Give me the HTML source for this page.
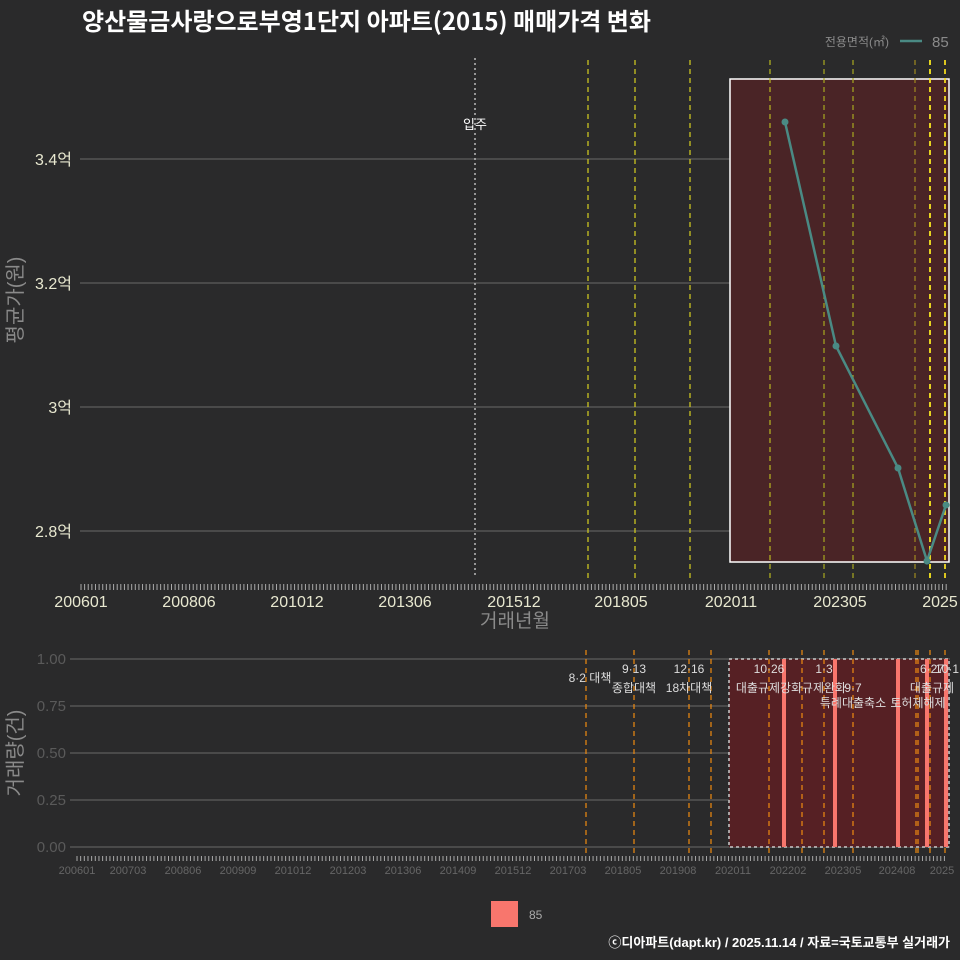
<!DOCTYPE html>
<html><head><meta charset="utf-8"><style>
html,body{margin:0;padding:0;background:#2a2a2b;}
svg{display:block;font-family:"Liberation Sans","Noto Sans CJK KR",sans-serif;}
</style></head><body>
<svg id="s" width="960" height="960" viewBox="0 0 960 960" xmlns="http://www.w3.org/2000/svg">
<rect width="960" height="960" fill="#2a2a2b"/>
<text x="82" y="30" font-size="24" font-weight="bold" fill="#fff" font-family="Noto Sans CJK KR,sans-serif">양산물금사랑으로부영1단지 아파트(2015) 매매가격 변화</text>
<text x="889" y="46" font-size="12" fill="#8a8a8a" text-anchor="end">전용면적(㎡)</text>
<line x1="900" y1="41" x2="922" y2="41" stroke="#4a8a84" stroke-width="2.5"/>
<text x="932" y="47" font-size="15" fill="#8a8a8a">85</text>

<g stroke="#6a6a6a" stroke-width="1">
<line x1="80" y1="159" x2="950" y2="159"/><line x1="80" y1="283" x2="950" y2="283"/>
<line x1="80" y1="407" x2="950" y2="407"/><line x1="80" y1="531" x2="950" y2="531"/>
</g>
<g font-size="16" fill="#e8e8d0" text-anchor="end">
<text x="72" y="165">3.4억</text><text x="72" y="289">3.2억</text><text x="72" y="413">3억</text><text x="72" y="537">2.8억</text>
</g>
<rect x="730" y="79" width="219" height="483" fill="#4a2426" stroke="#fff" stroke-width="1.5"/>
<line x1="475" y1="58" x2="475" y2="578" stroke="#bbb" stroke-width="1.5" stroke-dasharray="2,3"/>
<text x="475" y="129" font-size="13" fill="#fff" text-anchor="middle">입주</text>
<g stroke-width="1.2" stroke-dasharray="5,4">
<line x1="588" y1="60" x2="588" y2="578" stroke="#d8d020"/>
<line x1="635" y1="60" x2="635" y2="578" stroke="#d8d020"/>
<line x1="690" y1="60" x2="690" y2="578" stroke="#d8d020"/>
<line x1="770" y1="60" x2="770" y2="578" stroke="#b8b820"/>
<line x1="824" y1="60" x2="824" y2="578" stroke="#a8a820"/>
<line x1="853" y1="60" x2="853" y2="578" stroke="#a8a820"/>
<line x1="915" y1="60" x2="915" y2="578" stroke="#a08a20"/>
<line x1="930" y1="60" x2="930" y2="578" stroke="#f8e820" stroke-width="1.8"/>
<line x1="945" y1="60" x2="945" y2="578" stroke="#f0d820" stroke-width="1.8"/>
</g>
<polyline points="785,122 836,346 898,468 927,561 946,505" fill="none" stroke="#4a8a84" stroke-width="2.5"/>
<g fill="#4a8a84"><circle cx="785" cy="122" r="3.5"/><circle cx="836" cy="346" r="3.5"/><circle cx="898" cy="468" r="3.5"/><circle cx="927" cy="561" r="3.5"/><circle cx="946" cy="505" r="3.5"/></g>
<g id="tt" stroke="#aaa" stroke-width="1"></g>
<g font-size="16" fill="#e8e8d0" text-anchor="middle">
<text x="81" y="607">200601</text><text x="189" y="607">200806</text><text x="297" y="607">201012</text><text x="405" y="607">201306</text><text x="514" y="607">201512</text><text x="621" y="607">201805</text><text x="731" y="607">202011</text><text x="840" y="607">202305</text><text x="940" y="607">2025</text>
</g>
<text x="515" y="627" font-size="19" fill="#8a8a8a" text-anchor="middle">거래년월</text>
<text transform="translate(22,300) rotate(-90)" font-size="20" fill="#8a8a8a" text-anchor="middle">평균가(원)</text>

<g stroke="#6a6a6a" stroke-width="1">
<line x1="70" y1="659" x2="950" y2="659"/><line x1="70" y1="706" x2="950" y2="706"/><line x1="70" y1="753" x2="950" y2="753"/><line x1="70" y1="800" x2="950" y2="800"/><line x1="70" y1="847" x2="950" y2="847"/>
</g>
<g font-size="15" fill="#5a5a5a" text-anchor="end">
<text x="66" y="664">1.00</text><text x="66" y="711">0.75</text><text x="66" y="758">0.50</text><text x="66" y="805">0.25</text><text x="66" y="852">0.00</text>
</g>
<text transform="translate(22,753) rotate(-90)" font-size="20" fill="#8a8a8a" text-anchor="middle">거래량(건)</text>
<rect x="729" y="659" width="220" height="188" fill="#562024" stroke="#ccc" stroke-width="1.5" stroke-dasharray="3,3"/>
<g stroke="#f08a10" stroke-width="1.2" stroke-dasharray="5,4">
<line x1="586" y1="650" x2="586" y2="856"/><line x1="634" y1="650" x2="634" y2="856"/><line x1="689" y1="650" x2="689" y2="856"/><line x1="711" y1="650" x2="711" y2="856"/><line x1="769" y1="650" x2="769" y2="856"/><line x1="802" y1="650" x2="802" y2="856"/><line x1="824" y1="650" x2="824" y2="856"/><line x1="853" y1="650" x2="853" y2="856"/><line x1="916" y1="650" x2="916" y2="856"/><line x1="918" y1="650" x2="918" y2="856"/><line x1="930" y1="650" x2="930" y2="856"/><line x1="945" y1="650" x2="945" y2="856"/>
</g>
<g fill="#f8766d">
<rect x="782" y="659" width="4" height="188"/><rect x="833" y="659" width="4" height="188"/><rect x="896" y="659" width="4" height="188"/><rect x="925" y="659" width="4" height="188"/><rect x="944" y="659" width="4" height="188"/>
</g>
<g font-size="12" fill="#ddd" text-anchor="middle">
<text x="590" y="682">8·2 대책</text>
<text x="634" y="673">9·13</text><text x="634" y="692">종합대책</text>
<text x="689" y="673">12·16</text><text x="689" y="692">18차대책</text>
<text x="769" y="673">10·26</text><text x="769" y="692">대출규제강화</text>
<text x="824" y="673">1·3</text><text x="824" y="692">규제완화</text>
<text x="853" y="692">9·7</text><text x="853" y="707">특례대출축소</text>
<text x="918" y="707">토허제해제</text>
<text x="932" y="673">6·27</text><text x="932" y="692">대출규제</text>
<text x="947" y="673">10·1</text>
</g>
<g id="bt" stroke="#aaa" stroke-width="1"></g>
<g font-size="11" fill="#666" text-anchor="middle">
<text x="77" y="874">200601</text><text x="128" y="874">200703</text><text x="183" y="874">200806</text><text x="238" y="874">200909</text><text x="293" y="874">201012</text><text x="348" y="874">201203</text><text x="403" y="874">201306</text><text x="458" y="874">201409</text><text x="513" y="874">201512</text><text x="568" y="874">201703</text><text x="623" y="874">201805</text><text x="678" y="874">201908</text><text x="733" y="874">202011</text><text x="788" y="874">202202</text><text x="843" y="874">202305</text><text x="897" y="874">202408</text><text x="942" y="874">2025</text>
</g>
<rect x="491" y="901" width="27" height="26" fill="#f8766d"/>
<text x="529" y="919" font-size="12" fill="#aaa">85</text>
<text x="950" y="947" font-size="13" font-weight="bold" fill="#fff" text-anchor="end">ⓒ디아파트(dapt.kr) / 2025.11.14 / 자료=국토교통부 실거래가</text>
</svg>
<script>
var ns="http://www.w3.org/2000/svg";
function ticks(id,x0,step,n,y1,y2){var g=document.getElementById(id);for(var i=0;i<n;i++){var l=document.createElementNS(ns,"line");var x=x0+i*step;l.setAttribute("x1",x);l.setAttribute("x2",x);l.setAttribute("y1",y1);l.setAttribute("y2",y2);g.appendChild(l);}}
ticks("tt",81,3.62,240,584,590);
ticks("bt",77,3.66,238,856,861);
</script>
</body></html>
